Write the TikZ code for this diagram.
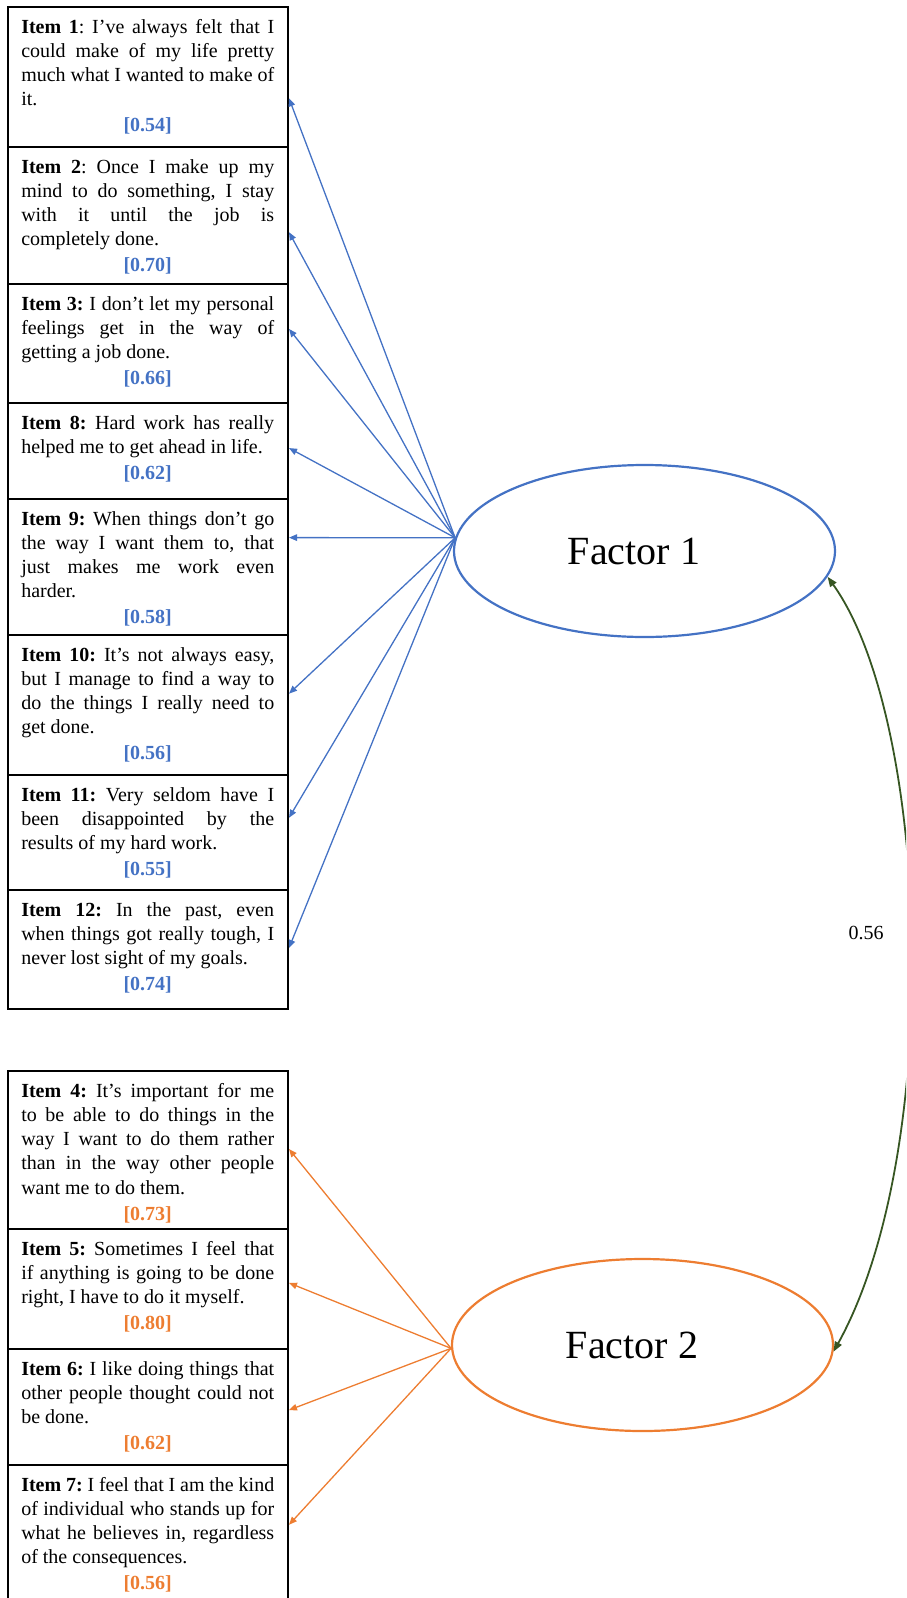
\documentclass[tikz,border=0pt]{standalone}
\usepackage{fontspec}
\setmainfont{Liberation Serif}
\usetikzlibrary{arrows.meta,shapes.geometric,calc}
\frenchspacing

\definecolor{fablue}{HTML}{4472C4}
\definecolor{faorange}{HTML}{ED7D31}
\definecolor{corgreen}{HTML}{375623}

% body of one item box: box height, statement, loading, colour of the loading
\newcommand{\itemtext}[4]{%
  \parbox[c][#1][t]{253pt}{\fontsize{20}{24.3}\selectfont
    \rule{0pt}{26pt}#2\par\vspace{1.5pt}
    {\centering\textbf{\color{#4}[#3]}\par}}}

\tikzset{
  itembox/.style={draw, line width=2pt, rectangle, inner xsep=13.75pt,
    inner ysep=0pt, anchor=north west},
  factor/.style={ellipse, line width=2.2pt, minimum width=381pt,
    minimum height=172pt, inner sep=0pt, font=\fontsize{40}{48}\selectfont},
  loadA/.style={draw=fablue, line width=1.3pt, -{Triangle[length=8pt,width=6.5pt]}},
  loadB/.style={draw=faorange, line width=1.3pt, -{Triangle[length=8pt,width=6.5pt]}},
  corr/.style={draw=corgreen, line width=1.8pt,
    {Triangle[length=10pt,width=7.5pt]}-{Triangle[length=10pt,width=7.5pt]}},
}

\begin{document}
\begin{tikzpicture}[x=1pt, y=-1pt]
\useasboundingbox (0,0) rectangle (906,1598);
\clip (0,0) rectangle (906,1598);

% ---- items of the first factor ----
\node[itembox] (i1) at (6.5,6) {\itemtext{140pt}{\textbf{Item 1}: I’ve always felt that I\linebreak could make of my life pretty\linebreak much what I wanted to make of\linebreak it.}{0.54}{fablue}};
\node[itembox] (i2) at (6.5,146) {\itemtext{137pt}{\textbf{Item 2}: Once I make up my\linebreak mind to do something, I stay\linebreak with it until the job is\linebreak completely done.}{0.70}{fablue}};
\node[itembox] (i3) at (6.5,283) {\itemtext{119pt}{\textbf{Item 3:} I don’t let my personal\linebreak feelings get in the way of\linebreak getting a job done.}{0.66}{fablue}};
\node[itembox] (i8) at (6.5,402) {\itemtext{96pt}{\textbf{Item 8:} Hard work has really\linebreak helped me to get ahead in life.}{0.62}{fablue}};
\node[itembox] (i9) at (6.5,498) {\itemtext{136pt}{\textbf{Item 9:} When things don’t go\linebreak the way I want them to, that\linebreak just makes me work even\linebreak harder.}{0.58}{fablue}};
\node[itembox] (i10) at (6.5,634) {\itemtext{140pt}{\textbf{Item 10:} It’s not always easy,\linebreak but I manage to find a way to\linebreak do the things I really need to\linebreak get done.}{0.56}{fablue}};
\node[itembox] (i11) at (6.5,774) {\itemtext{115pt}{\textbf{Item 11:} Very seldom have I\linebreak been disappointed by the\linebreak results of my hard work.}{0.55}{fablue}};
\node[itembox] (i12) at (6.5,889) {\itemtext{119pt}{\textbf{Item 12:} In the past, even\linebreak when things got really tough, I\linebreak never lost sight of my goals.}{0.74}{fablue}};

% ---- items of the second factor ----
\node[itembox] (i4) at (6.5,1070) {\itemtext{158pt}{\textbf{Item 4:} It’s important for me\linebreak to be able to do things in the\linebreak way I want to do them rather\linebreak than in the way other people\linebreak want me to do them.}{0.73}{faorange}};
\node[itembox] (i5) at (6.5,1228) {\itemtext{120pt}{\textbf{Item 5:} Sometimes I feel that\linebreak if anything is going to be done\linebreak right, I have to do it myself.}{0.80}{faorange}};
\node[itembox] (i6) at (6.5,1348) {\itemtext{116pt}{\textbf{Item 6:} I like doing things that\linebreak other people thought could not\linebreak be done.}{0.62}{faorange}};
\node[itembox] (i7) at (6.5,1464) {\itemtext{160pt}{\textbf{Item 7:} I feel that I am the kind\linebreak of individual who stands up for\linebreak what he believes in, regardless\linebreak of the consequences.}{0.56}{faorange}};

% ---- latent factors ----
\node[factor, draw=fablue] (f1) at (644.5,551) {Factor 1\hspace*{21pt}};
\node[factor, draw=faorange] (f2) at (642.5,1345) {Factor 2\hspace*{21pt}};

% ---- loadings ----
\draw[loadA] (f1.176) -- ($(i1.north east)!0.65!(i1.south east)$);
\draw[loadA] (f1.176) -- ($(i2.north east)!0.62!(i2.south east)$);
\draw[loadA] (f1.176) -- ($(i3.north east)!0.38!(i3.south east)$);
\draw[loadA] (f1.176) -- ($(i8.north east)!0.47!(i8.south east)$);
\draw[loadA] (f1.176) -- ($(i9.north east)!0.287!(i9.south east)$);
\draw[loadA] (f1.176) -- ($(i10.north east)!0.42!(i10.south east)$);
\draw[loadA] (f1.176) -- ($(i11.north east)!0.374!(i11.south east)$);
\draw[loadA] (f1.176) -- ($(i12.north east)!0.487!(i12.south east)$);

\draw[loadB] (f2.181) -- ($(i4.north east)!0.494!(i4.south east)$);
\draw[loadB] (f2.181) -- ($(i5.north east)!0.45!(i5.south east)$);
\draw[loadB] (f2.181) -- ($(i6.north east)!0.526!(i6.south east)$);
\draw[loadB] (f2.181) -- ($(i7.north east)!0.375!(i7.south east)$);

% ---- factor correlation ----
\draw[corr] (f1.352) .. controls (930,720) and (945,1150) .. (f2.358);
\node[font=\fontsize{20}{24}\selectfont] (rho) at (866,933) {0.56};
\end{tikzpicture}
\end{document}
